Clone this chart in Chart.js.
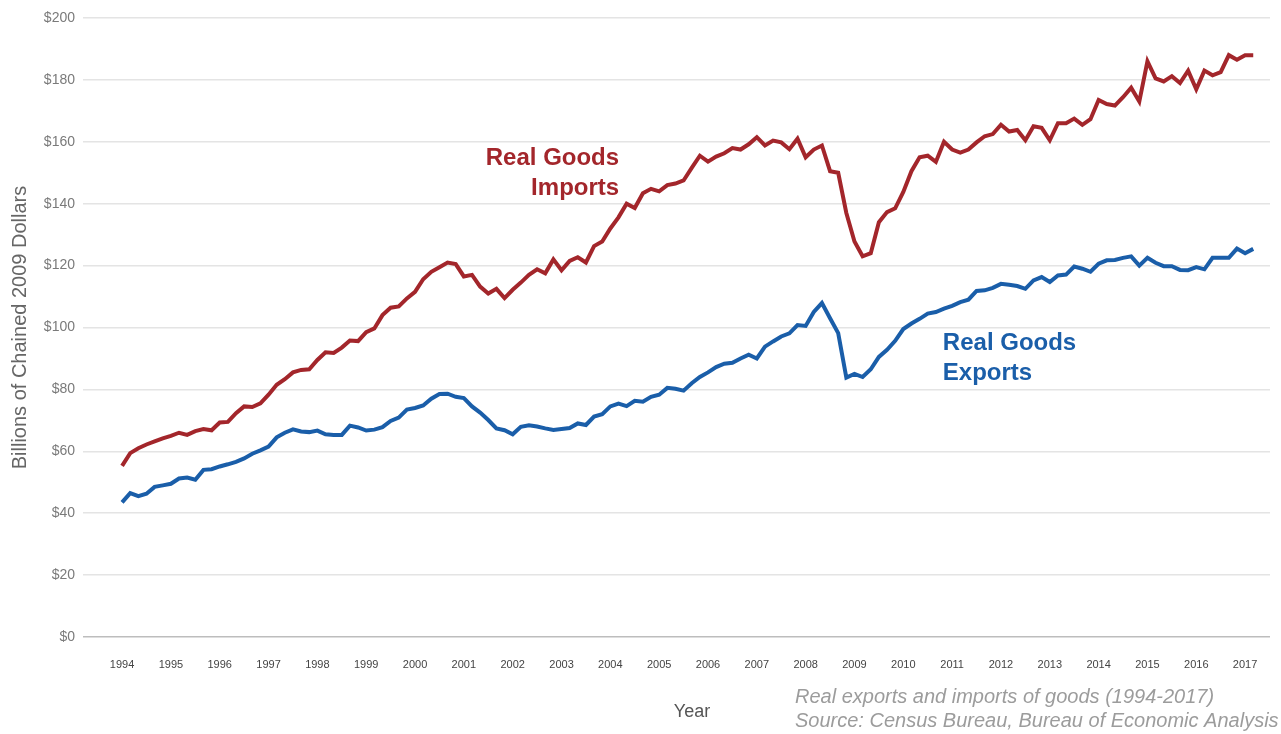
<!DOCTYPE html>
<html>
<head>
<meta charset="utf-8">
<script src="https://cdn.jsdelivr.net/npm/chart.js@4.4.0/dist/chart.umd.min.js"></script>
<style>
  html, body { margin: 0; padding: 0; background: #fff; }
  #wrap { width: 1281px; height: 734px; position: relative; }
</style>
</head>
<body>
<div id="wrap"><canvas id="chart"></canvas></div>
<script>
// data: one value every 2 months, starting Jan 1994
var startYear = 1994;
var monthsPerPoint = 2;

var importsValues = [
  55.3, 59.4, 61, 62.2, 63.2, 64.2, 65, 66, 65.3, 66.5, 67.2, 66.8,
  69.3, 69.5, 72.3, 74.5, 74.3, 75.5,
  78.3, 81.5, 83.3, 85.5, 86.3, 86.5,
  89.5, 92, 91.8, 93.5, 95.8, 95.6,
  98.5, 99.7, 104, 106.4, 106.8, 109.4,
  111.5, 115.6, 118, 119.5, 121, 120.5,
  116.5, 117, 113.2, 111, 112.5, 109.5,
  112.2, 114.5, 117, 118.8, 117.5, 122,
  118.5, 121.5, 122.7, 121, 126.3, 127.8,
  132, 135.6, 140, 138.6, 143.4, 144.8,
  144, 146, 146.5, 147.5, 151.6, 155.5,
  153.6, 155.2, 156.3, 158, 157.5, 159.2,
  161.5, 158.8, 160.4, 159.8, 157.6, 161,
  155, 157.5, 158.8, 150.5, 150, 137,
  127.8, 123, 124, 134, 137.3, 138.5,
  143.8, 150.5, 155, 155.5, 153.5, 160,
  157.5, 156.5, 157.5, 159.8, 161.8, 162.5,
  165.5, 163.3, 163.8, 160.5, 165, 164.5,
  160.5, 166, 166, 167.5, 165.5, 167.3,
  173.5, 172.2, 171.7, 174.4, 177.5, 173,
  186, 180.5, 179.5, 181.2, 179, 183,
  177, 183, 181.5, 182.5, 188, 186.5,
  188, 188
];

var exportsValues = [
  43.5, 46.5, 45.5, 46.3, 48.5, 49, 49.5, 51.2, 51.5, 50.8, 54, 54.2,
  55.1, 55.8, 56.6, 57.7, 59.2, 60.3,
  61.5, 64.5, 66, 67.1, 66.4, 66.2,
  66.7, 65.5, 65.3, 65.3, 68.3, 67.7,
  66.7, 67, 67.8, 69.8, 70.9, 73.5,
  74, 74.8, 77, 78.5, 78.6, 77.6,
  77.2, 74.5, 72.5, 70.1, 67.4, 66.8,
  65.5, 67.9, 68.4, 68, 67.4, 66.9,
  67.2, 67.5, 69, 68.5, 71.2, 72,
  74.5, 75.4, 74.6, 76.3, 76, 77.6,
  78.3, 80.5, 80.2, 79.6, 82, 84,
  85.5, 87.2, 88.3, 88.6, 90, 91.2,
  90, 93.8, 95.5, 97.1, 98.1, 100.8,
  100.5, 105, 107.9, 103, 98.2, 83.8,
  85, 84, 86.5, 90.5, 92.8, 95.7,
  99.5, 101.3, 102.8, 104.5, 105, 106.1,
  107, 108.2, 109, 111.8, 112, 112.8,
  114.1, 113.8, 113.4, 112.5, 115.2, 116.3,
  114.7, 116.8, 117.1, 119.7, 119, 118,
  120.6, 121.7, 121.8, 122.5, 123, 120,
  122.5, 120.9, 119.8, 119.8, 118.6, 118.5,
  119.5, 118.8, 122.5, 122.5, 122.5, 125.5,
  124, 125.4
];

var yearTicks = [1994, 1995, 1996, 1997, 1998, 1999, 2000, 2001, 2002, 2003, 2004, 2005,
  2006, 2007, 2008, 2009, 2010, 2011, 2012, 2013, 2014, 2015, 2016, 2017];
var dollarTicks = [0, 20, 40, 60, 80, 100, 120, 140, 160, 180, 200];

var importColor = '#a3262b';
var exportColor = '#1a5ea9';
var fontFamily = '"Liberation Sans", Arial, Helvetica, sans-serif';

function toPoints(values) {
  return values.map(function (v, i) {
    return { x: startYear + i * monthsPerPoint / 12, y: v };
  });
}

// ******************************************************** TEXT LABELS

var textPlugin = {
  id: 'textLabels',
  afterDraw: function (chart) {
    var ctx = chart.ctx;
    var xs = chart.scales.x, ys = chart.scales.y;
    ctx.save();
    ctx.textBaseline = 'middle';

    ctx.font = 'bold 24px ' + fontFamily;
    ctx.fillStyle = importColor;
    ctx.textAlign = 'right';
    ctx.fillText('Real Goods', xs.getPixelForValue(2004.18), ys.getPixelForValue(154.8));
    ctx.fillText('Imports', xs.getPixelForValue(2004.18), ys.getPixelForValue(145.1));

    ctx.fillStyle = exportColor;
    ctx.textAlign = 'left';
    ctx.fillText('Real Goods', xs.getPixelForValue(2010.81), ys.getPixelForValue(95));
    ctx.fillText('Exports', xs.getPixelForValue(2010.81), ys.getPixelForValue(85.3));

    ctx.font = '18px ' + fontFamily;
    ctx.fillStyle = '#555';
    ctx.textAlign = 'center';
    ctx.fillText('Year', 692, 712);

    ctx.font = 'italic 20px ' + fontFamily;
    ctx.fillStyle = '#9c9c9c';
    ctx.textAlign = 'left';
    ctx.fillText('Real exports and imports of goods (1994-2017)', 795, 697);
    ctx.fillText('Source: Census Bureau, Bureau of Economic Analysis', 795, 721);
    ctx.restore();
  }
};

// ******************************************************** CHART

var config = {
  type: 'line',
  data: {
    datasets: [{
      label: 'Real Goods Imports',
      data: toPoints(importsValues),
      borderColor: importColor,
      borderWidth: 4,
      pointRadius: 0,
      tension: 0,
      fill: false
    }, {
      label: 'Real Goods Exports',
      data: toPoints(exportsValues),
      borderColor: exportColor,
      borderWidth: 4,
      pointRadius: 0,
      tension: 0,
      fill: false
    }]
  },
  options: {
    responsive: true,
    maintainAspectRatio: false,
    animation: false,
    layout: { padding: { top: 18, right: 11, bottom: 0, left: 0 } },
    plugins: {
      legend: { display: false },
      title: { display: false },
      tooltip: { enabled: false }
    },
    scales: {
      x: {
        type: 'linear',
        min: 1993.2,
        max: 2017.51,
        afterBuildTicks: function (scale) {
          scale.ticks = yearTicks.map(function (v) { return { value: v }; });
        },
        afterFit: function (scale) { scale.height = 97; },
        grid: { display: false, drawTicks: false, tickLength: 0 },
        border: { display: false },
        ticks: {
          autoSkip: false,
          maxRotation: 0,
          padding: 21,
          color: '#444',
          font: { family: '"Liberation Sans Narrow", ' + fontFamily, size: 11 },
          callback: function (v) { return String(v); }
        }
      },
      y: {
        min: 0,
        max: 200,
        afterBuildTicks: function (scale) {
          scale.ticks = dollarTicks.map(function (v) { return { value: v }; });
        },
        afterFit: function (scale) { scale.width = 83; },
        grid: {
          drawTicks: false,
          tickLength: 0,
          lineWidth: 1.5,
          color: function (c) { return c.tick && c.tick.value === 0 ? '#bdbdbd' : '#e4e4e4'; }
        },
        border: { display: false },
        ticks: {
          padding: 8,
          color: '#7a7a7a',
          font: { family: fontFamily, size: 14 },
          callback: function (v) { return '$' + v; }
        },
        title: {
          display: true,
          text: 'Billions of Chained 2009 Dollars',
          color: '#666',
          font: { family: fontFamily, size: 20 },
          padding: { top: 8, bottom: 8 }
        }
      }
    }
  },
  plugins: [textPlugin]
};

var wrap = document.getElementById('wrap');
var canvas = document.getElementById('chart');
canvas.width = wrap.clientWidth;
canvas.height = wrap.clientHeight;

window.myLine = new Chart(canvas, config);
</script>
</body>
</html>
